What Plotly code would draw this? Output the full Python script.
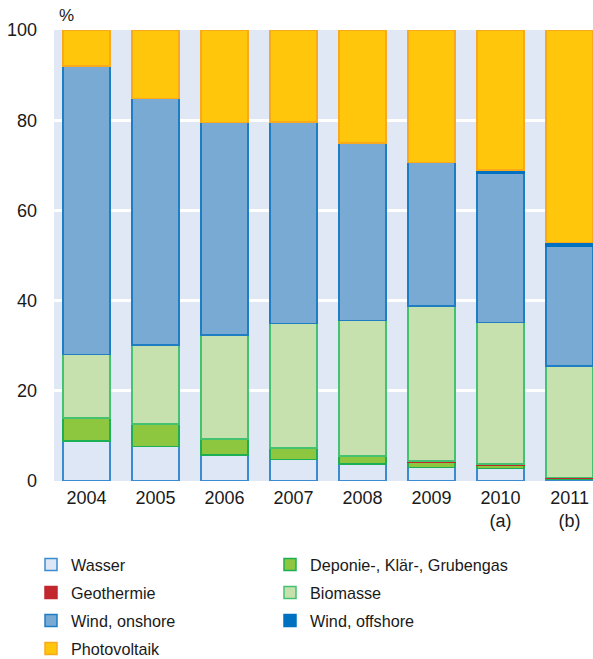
import plotly.graph_objects as go

years = ["2004", "2005", "2006", "2007", "2008", "2009", "2010<br>(a)", "2011<br>(b)"]
wasser = [8.9, 7.6, 5.8, 4.8, 3.8, 3.0, 2.8, 0.5]
deponie = [5.1, 5.0, 3.5, 2.5, 1.6, 1.2, 0.8, 0.1]
geothermie = [0.0, 0.0, 0.0, 0.0, 0.1, 0.2, 0.2, 0.2]
biomasse = [14.1, 17.6, 23.1, 27.6, 30.1, 34.4, 31.4, 24.7]
wind_on = [63.9, 54.6, 47.1, 44.7, 39.4, 31.8, 33.1, 26.5]
wind_off = [0.0, 0.0, 0.0, 0.0, 0.0, 0.0, 0.7, 0.9]
pv = [8.0, 15.2, 20.5, 20.4, 25.0, 29.4, 31.0, 47.1]

series = [
    ("Wasser", wasser, "#DDE7F5", "#3A8BD0"),
    ("Deponie-, Klär-, Grubengas", deponie, "#8DC63F", "#1DAF55"),
    ("Geothermie", geothermie, "#C1272D", "#C1272D"),
    ("Biomasse", biomasse, "#C6E1AE", "#45C172"),
    ("Wind, onshore", wind_on, "#79AAD4", "#1F7DC4"),
    ("Wind, offshore", wind_off, "#0070C0", "#0070C0"),
    ("Photovoltaik", pv, "#FFC60B", "#F9A91C"),
]

W, Hfig = 593, 659
plot_left, plot_top, plot_bottom = 54, 30, 481
PW = W - plot_left
PH = plot_bottom - plot_top

col_x = [(31 - plot_left) / PW, (270 - plot_left) / PW]
row_y = [565, 593, 621, 649]

fig = go.Figure()
legends = {}
for i, (name, vals, fill, line) in enumerate(series):
    key = f"legend{i + 2}"
    fig.add_trace(go.Bar(
        x=years, y=vals, name=name, legend=key, showlegend=True,
        marker=dict(color=fill, line=dict(color=line, width=1.5)),
        width=0.68,
    ))
    legends[key] = dict(
        orientation="h", x=col_x[i % 2], xanchor="left",
        y=(plot_bottom - row_y[i // 2]) / PH, yanchor="middle",
        font=dict(size=16.2), itemwidth=30, bgcolor="rgba(0,0,0,0)",
        visible=True,
    )

font = "Liberation Sans, Arial, sans-serif"
fig.update_layout(
    width=W, height=Hfig,
    barmode="stack",
    showlegend=True,
    margin=dict(l=plot_left, r=0, t=plot_top, b=Hfig - plot_bottom, autoexpand=False),
    paper_bgcolor="white",
    plot_bgcolor="#E1E8F5",
    font=dict(family=font, size=18, color="#1a1a1a"),
    xaxis=dict(
        range=[-0.47, 7.34], showgrid=False, zeroline=False,
        ticks="", tickfont=dict(size=18), ticklabelstandoff=4,
        automargin=False,
    ),
    yaxis=dict(
        range=[0, 100], tickvals=[0, 20, 40, 60, 80, 100],
        showgrid=True, gridcolor="white", gridwidth=3, zeroline=False,
        ticks="", ticklabelstandoff=16, tickfont=dict(size=18),
        automargin=False,
    ),
    annotations=[dict(
        text="%", xref="paper", yref="paper", x=0.005, y=1.0, yshift=15,
        xanchor="left", yanchor="middle", showarrow=False,
        font=dict(size=17),
    )],
    **legends,
)

fig.write_html(
    "out.html",
    config={"displayModeBar": False},
    post_script="document.body.style.margin='0';document.body.style.overflow='hidden';",
)
